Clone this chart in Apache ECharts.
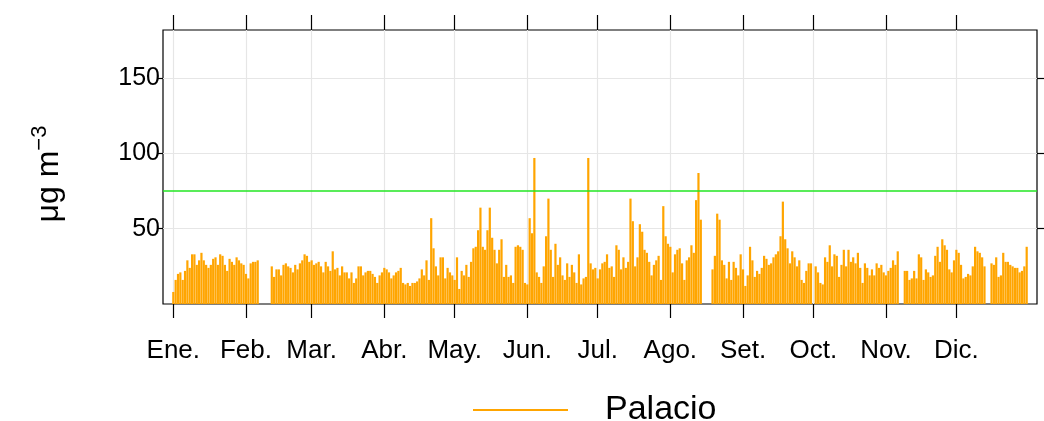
<!DOCTYPE html>
<html>
<head>
<meta charset="utf-8">
<script src="https://cdn.jsdelivr.net/npm/echarts@6/dist/echarts.min.js"></script>
<style>
  html, body { margin: 0; padding: 0; background: #fff; }
  #chart { width: 1044px; height: 421px; }
</style>
</head>
<body>
<div id="chart"></div>
<script>
// daily values, µg m-3, one array per month (null = no data)
const ene = [8,16,20,21,16,22,29,24,33,33,26,29,34,29,26,24,26,30,31,26,33,32,26,22,30,28,26,31,29,27,26];
const feb = [20,17,27,28,28,29,null,null,null,null,null,25,18,23,23,19,26,27,25,24,21,26,23,27,29,33,32,28];
const mar = [29,26,27,28,25,21,28,25,22,35,23,24,19,25,21,21,17,21,14,17,25,25,19,21,22,22,20,18,14,19,21];
const abr = [24,23,21,17,19,21,22,24,14,13,14,12,14,14,15,17,23,19,29,16,57,37,25,19,31,31,17,24,21,19];
const may = [16,31,10,22,19,26,18,28,37,38,49,64,38,36,49,64,44,36,27,36,43,18,26,18,19,14,38,39,38,36,14];
const jun = [13,57,47,97,21,18,14,25,45,70,36,18,40,26,31,19,16,27,18,26,21,14,33,13,17,18,97,27,23,24];
const jul = [17,23,27,28,33,24,25,18,39,36,23,31,24,28,70,55,25,31,53,48,36,34,28,19,26,29,32,16,65,45,40];
const ago = [38,21,33,36,37,27,16,29,31,39,34,69,87,56,null,null,null,null,23,32,60,56,29,26,17,28,16,28,24,19,33];
const sep = [23,12,19,38,29,18,22,20,24,32,30,26,27,31,33,35,45,68,43,37,27,35,31,25,29,16,14,22,27,27];
const oct = [null,25,21,14,13,31,28,39,25,33,32,18,26,36,25,36,28,31,27,34,24,14,27,24,19,23,19,27,24,26,21];
const nov = [19,22,24,29,26,35,null,null,22,22,16,17,22,17,33,31,16,23,21,18,19,32,38,28,43,39,36,23,21,29];
const dic = [36,34,26,17,18,20,19,25,38,35,34,31,25,null,null,27,26,31,18,19,34,28,28,26,25,24,24,21,22,25,38];

const monthLabels = ['Ene.', 'Feb.', 'Mar.', 'Abr.', 'May.', 'Jun.', 'Jul.', 'Ago.', 'Set.', 'Oct.', 'Nov.', 'Dic.'];
const monthStarts = [0, 31, 59, 90, 120, 151, 181, 212, 243, 273, 304, 334];
const yTicks = [50, 100, 150];
const limite = 75;

const valores = [].concat(ene, feb, mar, abr, may, jun, jul, ago, sep, oct, nov, dic);
const datos = valores.map((v, i) => [i, v]);

const fuente = 'Liberation Sans, Arial, sans-serif';
const tickStyle = { color: '#000', width: 1.2 };

const chart = echarts.init(document.getElementById('chart'));
chart.setOption({
  animation: false,
  grid: {
    left: 163, top: 30, width: 874, height: 274,
    show: true, borderColor: '#000', borderWidth: 1.2, backgroundColor: 'transparent'
  },
  legend: {
    data: ['Palacio'],
    left: 468, top: 388,
    icon: 'rect', itemWidth: 95, itemHeight: 2,
    textStyle: { fontFamily: fuente, fontSize: 34, color: '#000', padding: [0, 0, 0, 32] }
  },
  xAxis: [
    {
      type: 'value', min: -4.4, max: 368.4, position: 'bottom',
      axisLine: { show: false, onZero: false },
      axisTick: { show: true, customValues: monthStarts, length: 14, lineStyle: tickStyle },
      axisLabel: {
        customValues: monthStarts, margin: 34,
        fontFamily: fuente, fontSize: 26, color: '#000',
        formatter: v => monthLabels[monthStarts.indexOf(v)] || ''
      },
      splitLine: { show: true, lineStyle: { color: '#e6e6e6', width: 1.2 } }
    },
    {
      type: 'value', min: -4.4, max: 368.4, position: 'top',
      axisLine: { show: false, onZero: false },
      axisTick: { show: true, customValues: monthStarts, length: 15, lineStyle: tickStyle },
      axisLabel: { show: false },
      splitLine: { show: false }
    }
  ],
  yAxis: [
    {
      type: 'value', min: 0, max: 182, position: 'left',
      name: '{a|μg m}{b|−3}', nameLocation: 'middle', nameGap: 94, nameRotate: 90,
      nameTextStyle: {
        rich: {
          a: { fontFamily: fuente, fontSize: 32, color: '#000', lineHeight: 40, padding: [0, 0, 0, 8] },
          b: { fontFamily: fuente, fontSize: 22, color: '#000', verticalAlign: 'top', lineHeight: 40, padding: [0, 22, 0, 0] }
        }
      },
      axisLine: { show: false, onZero: false },
      axisTick: { show: true, customValues: yTicks, length: 6, lineStyle: tickStyle },
      axisLabel: { customValues: yTicks, margin: 3, fontFamily: fuente, fontSize: 25, color: '#000' },
      splitLine: { show: true, lineStyle: { color: '#e6e6e6', width: 1.2 } }
    },
    {
      type: 'value', min: 0, max: 182, position: 'right',
      axisLine: { show: false, onZero: false },
      axisTick: { show: true, customValues: yTicks, length: 8, lineStyle: tickStyle },
      axisLabel: { show: false },
      splitLine: { show: false }
    }
  ],
  series: [
    {
      name: 'Palacio',
      type: 'bar',
      xAxisIndex: 0, yAxisIndex: 0,
      data: datos,
      barWidth: 2.2,
      itemStyle: { color: '#FFA500' },
      markLine: {
        silent: true, symbol: 'none',
        label: { show: false },
        lineStyle: { color: '#22e622', width: 1.6, type: 'solid' },
        data: [{ yAxis: limite }]
      }
    }
  ]
});
</script>
</body>
</html>
